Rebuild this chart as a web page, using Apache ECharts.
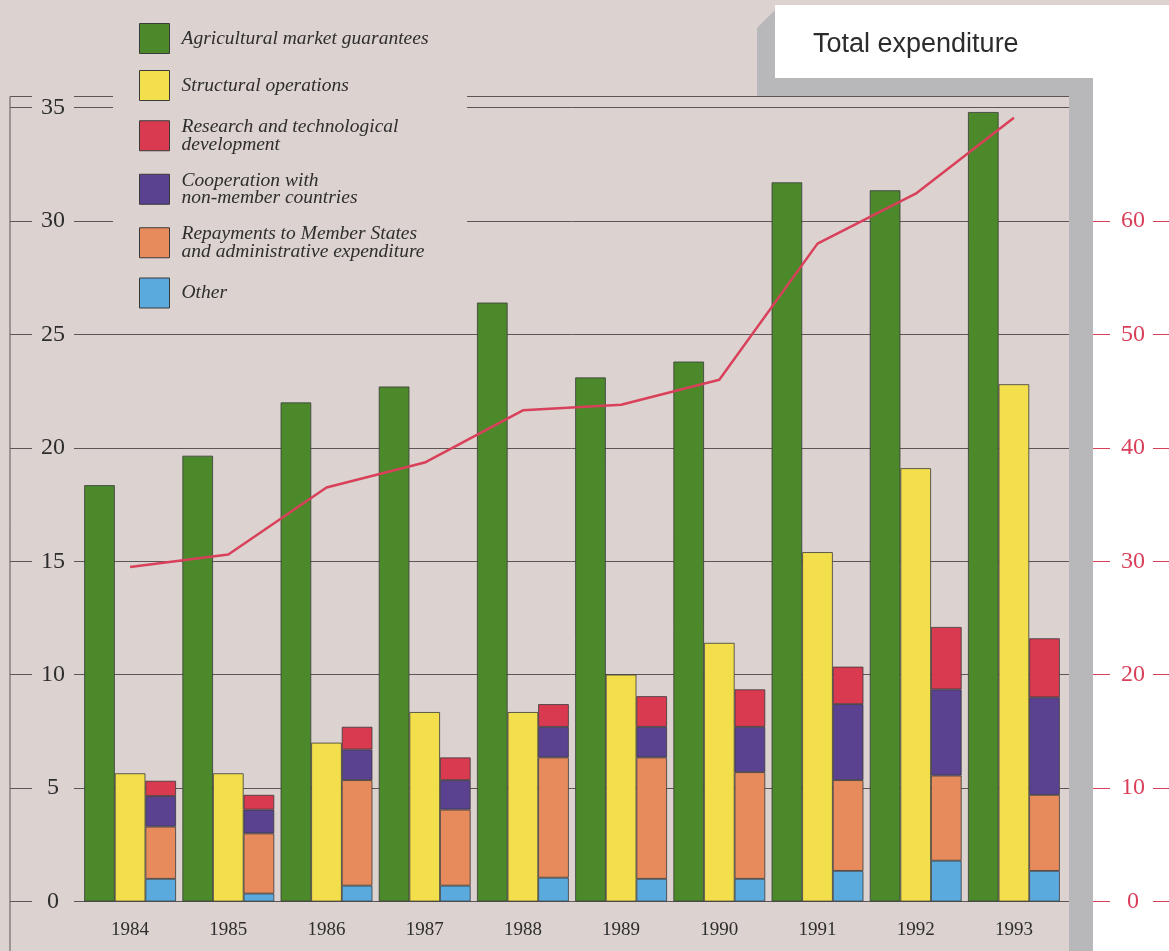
<!DOCTYPE html>
<html>
<head>
<meta charset="utf-8">
<title>Total expenditure</title>
<script src="https://cdn.jsdelivr.net/npm/echarts@6/dist/echarts.min.js"></script>
<style>
  html, body { margin: 0; padding: 0; background: #dcd2cf; }
  #chart { width: 1169px; height: 951px; }
</style>
</head>
<body>
<div id="chart"></div>
<script>
// Budget years on the category axis
const years = ['1984', '1985', '1986', '1987', '1988', '1989', '1990', '1991', '1992', '1993'];

// Expenditure by heading (left scale)
const agricultural = [18.35, 19.65, 22.0, 22.7, 26.4, 23.1, 23.8, 31.7, 31.35, 34.8];
const structural   = [5.65, 5.65, 7.0, 8.35, 8.35, 10.0, 11.4, 15.4, 19.1, 22.8];
const other        = [1.0, 0.35, 0.7, 0.7, 1.05, 1.0, 1.0, 1.35, 1.8, 1.35];
const repayments   = [2.3, 2.65, 4.65, 3.35, 5.3, 5.35, 4.7, 4.0, 3.75, 3.35];
const cooperation  = [1.35, 1.05, 1.35, 1.3, 1.35, 1.35, 2.0, 3.35, 3.8, 4.3];
const research     = [0.67, 0.65, 1.0, 1.0, 1.0, 1.35, 1.65, 1.65, 2.75, 2.6];

// Total expenditure (right scale)
const total = [29.5, 30.6, 36.5, 38.7, 43.3, 43.8, 46.0, 58.0, 62.4, 69.1];

// Axis ranges and printed ticks
const leftMax = 35, leftStep = 5;
const rightMax = 70, rightStep = 10;
const rightTicks = [0, 10, 20, 30, 40, 50, 60];

const names = {
  agri: 'Agricultural market guarantees',
  struct: 'Structural operations',
  research: 'Research and technological\ndevelopment',
  coop: 'Cooperation with\nnon-member countries',
  repay: 'Repayments to Member States\nand administrative expenditure',
  other: 'Other'
};

const colors = {
  agri: '#4b892b',
  struct: '#f3df4c',
  research: '#d93a50',
  coop: '#5a4291',
  repay: '#e88b5c',
  other: '#5aaade',
  total: '#d9405a'
};

const SERIF = '"Liberation Serif", "Times New Roman", serif';
const SANS = '"Liberation Sans", Arial, sans-serif';
const BG = '#dcd2cf';
const RULE = '#5c5656';

const TOP = 107.5, BOTTOM = 49.5;
const barW = 30.6;

function bar(name, data, color, stack) {
  return {
    name, type: 'bar', data, stack,
    xAxisIndex: 0, yAxisIndex: 0,
    barWidth: barW, barGap: '0%',
    itemStyle: { color, borderColor: '#3a3a3a', borderWidth: 0.8 },
    emphasis: { disabled: true },
    z: 3
  };
}

const chart = echarts.init(document.getElementById('chart'), null, { renderer: 'canvas' });

chart.setOption({
  backgroundColor: BG,
  animation: false,
  title: {
    text: 'Total expenditure',
    left: 808, top: 26,
    textStyle: { fontFamily: SANS, fontSize: 27, fontWeight: 'normal', color: '#2c2c2c' }
  },
  legend: {
    orient: 'vertical',
    left: 134, top: 18,
    itemWidth: 30, itemHeight: 30, itemGap: 16,
    icon: 'rect',
    selectedMode: false,
    data: [names.agri, names.struct, names.research, names.coop, names.repay, names.other],
    itemStyle: { borderColor: '#3a3a3a', borderWidth: 1 },
    textStyle: {
      fontFamily: SERIF, fontStyle: 'italic', fontSize: 19.5, lineHeight: 17.5,
      color: '#2e2e2e', padding: [0, 0, 0, 7]
    },
    z: 10
  },
  grid: [
    // bars and total line
    { left: 81, right: 106, top: TOP, bottom: BOTTOM },
    // horizontal rules and left scale labels
    { left: 74, right: 100, top: TOP, bottom: BOTTOM },
    // short rules left of the scale labels
    { left: 10, width: 22, top: TOP, bottom: BOTTOM },
    // right-hand scale for the total
    { left: 1093, right: 0, top: TOP, bottom: BOTTOM }
  ],
  xAxis: [
    {
      type: 'category', gridIndex: 0, data: years,
      axisLine: { show: false }, axisTick: { show: false },
      axisLabel: { fontFamily: SERIF, fontSize: 19, color: '#2e2e2e', margin: 19 }
    },
    { type: 'value', gridIndex: 1, show: false },
    { type: 'value', gridIndex: 2, show: false },
    { type: 'value', gridIndex: 3, show: false }
  ],
  yAxis: [
    { type: 'value', gridIndex: 0, min: 0, max: leftMax, show: false },
    { type: 'value', gridIndex: 0, min: 0, max: rightMax, show: false },
    {
      type: 'value', gridIndex: 1, min: 0, max: leftMax, interval: leftStep,
      axisLine: { show: false }, axisTick: { show: false },
      splitLine: { show: true, lineStyle: { color: RULE, width: 1 } },
      axisLabel: { fontFamily: SERIF, fontSize: 24, color: '#2e2e2e', align: 'center', margin: 21 }
    },
    {
      type: 'value', gridIndex: 2, min: 0, max: leftMax, interval: leftStep,
      axisLine: { show: false }, axisTick: { show: false }, axisLabel: { show: false },
      splitLine: { show: true, lineStyle: { color: RULE, width: 1 } }
    },
    {
      type: 'value', gridIndex: 3, position: 'left', min: 0, max: rightMax, interval: rightStep,
      axisLine: { show: false },
      axisTick: { show: true, inside: true, length: 17, customValues: rightTicks, lineStyle: { color: colors.total, width: 1 } },
      axisLabel: { inside: true, align: 'center', margin: 40, customValues: rightTicks, fontFamily: SERIF, fontSize: 24, color: colors.total },
      splitLine: { show: false }
    },
    {
      type: 'value', gridIndex: 3, position: 'right', min: 0, max: rightMax, interval: rightStep,
      axisLine: { show: false },
      axisTick: { show: true, inside: true, length: 16, customValues: rightTicks, lineStyle: { color: colors.total, width: 1 } },
      axisLabel: { show: false },
      splitLine: { show: false }
    }
  ],
  graphic: [
    // grey shadow behind the title card and along the plot edge
    {
      type: 'polygon', z: -20, silent: true,
      shape: { points: [[757, 28], [775, 10], [1093, 10], [1093, 951], [757, 951]] },
      style: { fill: '#b8b7b9' }
    },
    // plot panel over the shadow
    { type: 'rect', z: -19, silent: true, shape: { x: 740, y: 97, width: 329, height: 854 }, style: { fill: BG } },
    // white side panel and title card
    { type: 'rect', z: -19, silent: true, shape: { x: 1093, y: 78, width: 76, height: 873 }, style: { fill: '#ffffff' } },
    { type: 'rect', z: -18, silent: true, shape: { x: 775, y: 5, width: 394, height: 73 }, style: { fill: '#ffffff' } },
    // clear area under the legend
    { type: 'rect', z: 5, silent: true, shape: { x: 113, y: 88, width: 354, height: 224 }, style: { fill: BG } },
    // frame: left upright and the top rules
    { type: 'line', z: 6, silent: true, shape: { x1: 10, y1: 96.5, x2: 10, y2: 951 }, style: { stroke: RULE, lineWidth: 1 } },
    { type: 'line', z: 6, silent: true, shape: { x1: 10, y1: 96.5, x2: 32, y2: 96.5 }, style: { stroke: RULE, lineWidth: 1 } },
    { type: 'line', z: 6, silent: true, shape: { x1: 74, y1: 96.5, x2: 113, y2: 96.5 }, style: { stroke: RULE, lineWidth: 1 } },
    { type: 'line', z: 6, silent: true, shape: { x1: 467, y1: 96.5, x2: 1069, y2: 96.5 }, style: { stroke: RULE, lineWidth: 1 } }
  ],
  series: [
    bar(names.agri, agricultural, colors.agri, 'agri'),
    bar(names.struct, structural, colors.struct, 'struct'),
    bar(names.other, other, colors.other, 'rest'),
    bar(names.repay, repayments, colors.repay, 'rest'),
    bar(names.coop, cooperation, colors.coop, 'rest'),
    bar(names.research, research, colors.research, 'rest'),
    {
      name: 'Total expenditure', type: 'line', data: total,
      xAxisIndex: 0, yAxisIndex: 1,
      symbol: 'none', smooth: false,
      lineStyle: { color: colors.total, width: 2.5 },
      itemStyle: { color: colors.total },
      emphasis: { disabled: true },
      z: 8
    }
  ]
});
</script>
</body>
</html>
